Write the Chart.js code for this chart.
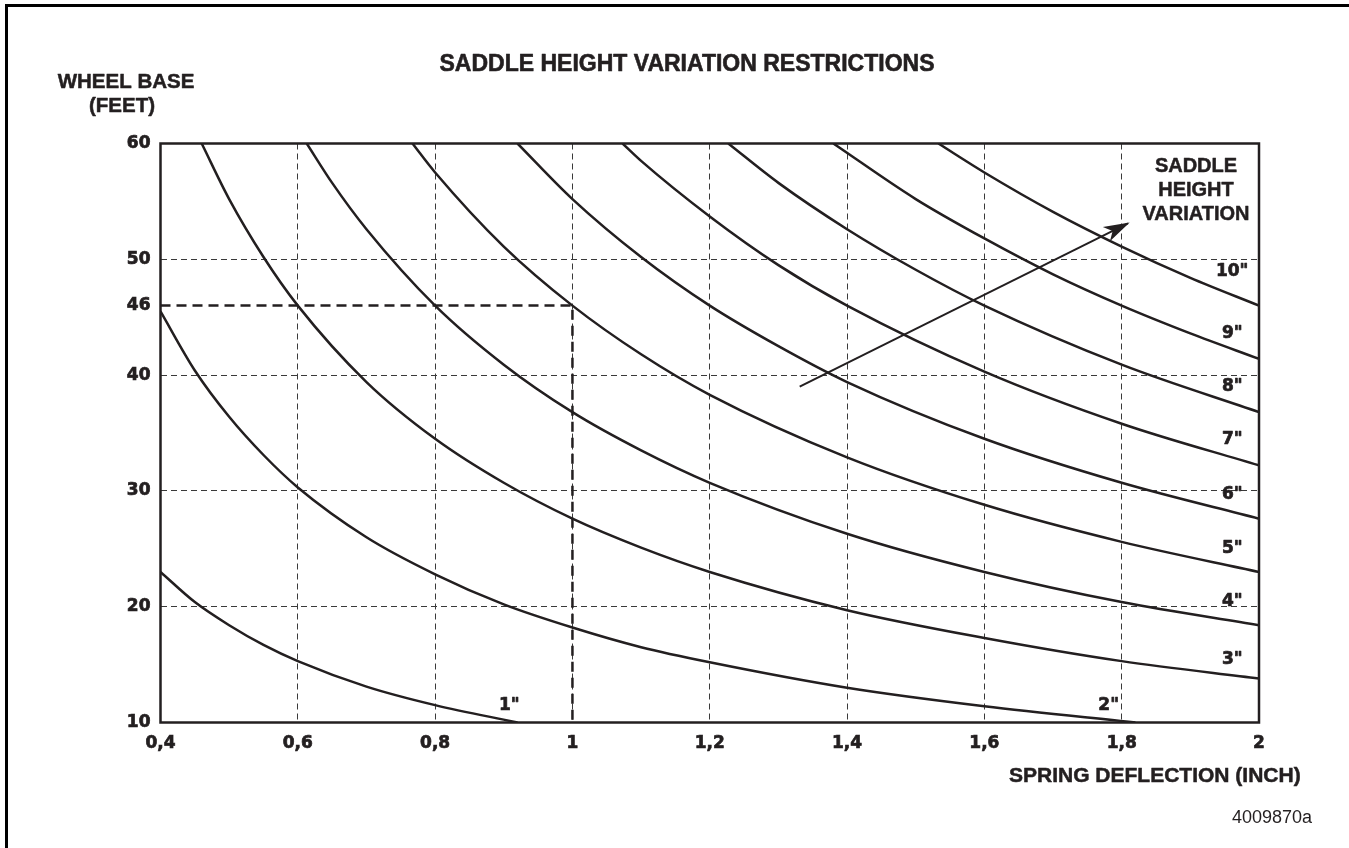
<!DOCTYPE html>
<html>
<head>
<meta charset="utf-8">
<title>Saddle height variation restrictions</title>
<script src="https://cdn.jsdelivr.net/npm/chart.js@4.4.1/dist/chart.umd.min.js"></script>
<style>
  html, body { margin: 0; padding: 0; background: #fff; }
  body { width: 1349px; height: 848px; position: relative; overflow: hidden; }
  #frame {
    position: absolute; left: 5px; top: 4px; width: 1400px; height: 900px;
    border-left: 3px solid #000; border-top: 3px solid #000;
  }
  #chart { position: absolute; left: 0; top: 0; }
</style>
</head>
<body>
<div id="frame"></div>
<canvas id="chart" width="1349" height="848"></canvas>
<script>
// axis ticks
const xTicks = [0.4, 0.6, 0.8, 1, 1.2, 1.4, 1.6, 1.8, 2];
const yTicks = [10, 20, 30, 40, 46, 50, 60];

// saddle height variation (inch) for each curve
const variations = [1, 2, 3, 4, 5, 6, 7, 8, 9, 10];

// spring deflection (inch) / wheel base (feet) along each curve
const defl1 = [0.4, 0.45, 0.5, 0.55, 0.6, 0.7, 0.8, 0.92];
const base1 = [23.0, 20.4, 18.4, 16.7, 15.3, 13.1, 11.5, 10.0];
const defl2 = [0.4, 0.45, 0.5, 0.55, 0.6, 0.7, 0.8, 0.9, 1.0, 1.1, 1.2, 1.4, 1.6, 1.82];
const base2 = [45.5, 40.4, 36.4, 33.1, 30.3, 26.0, 22.8, 20.2, 18.2, 16.5, 15.2, 13.0, 11.4, 10.0];
const defl3 = [0.46, 0.5, 0.55, 0.6, 0.7, 0.8, 0.9, 1.0, 1.1, 1.2, 1.4, 1.6, 1.8, 2.0];
const base3 = [60, 55.2, 50.2, 46.0, 39.4, 34.5, 30.7, 27.6, 25.1, 23.0, 19.7, 17.3, 15.3, 13.8];
const defl4 = [0.613, 0.65, 0.7, 0.8, 0.9, 1.0, 1.1, 1.2, 1.4, 1.6, 1.8, 2.0];
const base4 = [60, 56.6, 52.6, 46.0, 40.9, 36.8, 33.5, 30.7, 26.3, 23.0, 20.4, 18.4];
const defl5 = [0.767, 0.8, 0.9, 1.0, 1.1, 1.2, 1.4, 1.6, 1.8, 2.0];
const base5 = [60, 57.5, 51.1, 46.0, 41.8, 38.3, 32.9, 28.8, 25.6, 23.0];
const defl6 = [0.92, 1.0, 1.1, 1.2, 1.3, 1.4, 1.6, 1.8, 2.0];
const base6 = [60, 55.2, 50.2, 46.0, 42.5, 39.4, 34.5, 30.7, 27.6];
const defl7 = [1.073, 1.1, 1.2, 1.3, 1.4, 1.6, 1.8, 2.0];
const base7 = [60, 58.5, 53.7, 49.5, 46.0, 40.3, 35.8, 32.2];
const defl8 = [1.227, 1.3, 1.4, 1.5, 1.6, 1.8, 2.0];
const base8 = [60, 56.6, 52.6, 49.1, 46.0, 40.9, 36.8];
const defl9 = [1.38, 1.5, 1.6, 1.7, 1.8, 1.9, 2.0];
const base9 = [60, 55.2, 51.8, 48.7, 46.0, 43.6, 41.4];
const defl10 = [1.533, 1.6, 1.7, 1.8, 1.9, 2.0];
const base10 = [60, 57.5, 54.1, 51.1, 48.4, 46.0];

// worked example: 1" deflection on a 46 ft wheel base
const exampleDefl = [0.4, 1, 1];
const exampleBase = [46, 46, 10];

// "increasing variation" arrow
const arrowDefl = [1.331, 1.809];
const arrowBase = [39.0, 53.1];

// where the curve names sit (deflection, wheel base)
const labelDefl = [0.908, 1.781, 1.961, 1.961, 1.961, 1.961, 1.961, 1.961, 1.961, 1.961];
const labelBase = [11.5, 11.5, 15.4, 20.4, 25.0, 29.7, 34.4, 39.0, 43.6, 48.9];

const INK = "#231f20";
const HEAD_FONT = '"Liberation Sans", Arial, sans-serif';
const TICK_FONT = '"DejaVu Sans", sans-serif';

const zip = (xs, ys) => xs.map((x, i) => ({ x: x, y: ys[i] }));

const deflections = [defl1, defl2, defl3, defl4, defl5, defl6, defl7, defl8, defl9, defl10];
const wheelBases = [base1, base2, base3, base4, base5, base6, base7, base8, base9, base10];

const curveSets = variations.map((v, i) => ({
  label: v + '"',
  data: zip(deflections[i], wheelBases[i]),
  borderColor: INK,
  borderWidth: 2.5,
  pointRadius: 0,
  showLine: true,
  cubicInterpolationMode: "monotone",
}));

const exampleSet = {
  label: "example",
  data: zip(exampleDefl, exampleBase),
  borderColor: INK,
  borderWidth: 2.5,
  borderDash: [10, 6],
  pointRadius: 0,
  showLine: true,
  tension: 0,
};

const arrowSet = {
  label: "arrow",
  data: zip(arrowDefl, arrowBase),
  borderColor: INK,
  borderWidth: 2,
  pointRadius: 0,
  showLine: true,
  tension: 0,
};

function fmtTick(v) {
  return Number.isInteger(v) ? String(v) : v.toFixed(1).replace(".", ",");
}

// draw text a little heavier than the plain bold face
function heavyText(ctx, s, px, py, w) {
  ctx.lineWidth = w;
  ctx.strokeStyle = INK;
  ctx.strokeText(s, px, py);
  ctx.fillText(s, px, py);
}

// texts, curve names, arrow head and the plot frame
const decorPlugin = {
  id: "decor",
  afterDraw(chart) {
    const { ctx, chartArea, scales } = chart;
    const x = scales.x, y = scales.y;
    ctx.save();

    // frame round the plot
    ctx.strokeStyle = INK;
    ctx.lineWidth = 2.5;
    ctx.strokeRect(chartArea.left, chartArea.top,
      chartArea.right - chartArea.left, chartArea.bottom - chartArea.top);

    // arrow head
    const meta = chart.getDatasetMeta(chart.data.datasets.length - 1);
    const p0 = meta.data[0], p1 = meta.data[1];
    const ang = Math.atan2(p1.y - p0.y, p1.x - p0.x);
    ctx.translate(p1.x, p1.y);
    ctx.rotate(ang);
    ctx.beginPath();
    ctx.moveTo(2, 0);
    ctx.lineTo(-24, -8);
    ctx.lineTo(-17, 0);
    ctx.lineTo(-24, 8);
    ctx.closePath();
    ctx.fillStyle = INK;
    ctx.fill();
    ctx.setTransform(1, 0, 0, 1, 0, 0);

    ctx.fillStyle = INK;
    ctx.textBaseline = "alphabetic";
    ctx.lineJoin = "round";

    ctx.font = "bold 23px " + HEAD_FONT;
    ctx.textAlign = "center";
    heavyText(ctx, "SADDLE HEIGHT VARIATION RESTRICTIONS", 687, 71, 0.6);

    ctx.font = "bold 20.5px " + HEAD_FONT;
    heavyText(ctx, "WHEEL BASE", 126, 88, 0.5);
    heavyText(ctx, "(FEET)", 122, 112, 0.5);

    ctx.font = "bold 20px " + HEAD_FONT;
    heavyText(ctx, "SADDLE", 1196, 172, 0.5);
    heavyText(ctx, "HEIGHT", 1196, 196, 0.5);
    heavyText(ctx, "VARIATION", 1196, 220, 0.5);

    ctx.textAlign = "left";
    ctx.font = "bold 21px " + HEAD_FONT;
    heavyText(ctx, "SPRING DEFLECTION (INCH)", 1009, 782, 0.5);

    ctx.font = "18px " + HEAD_FONT;
    ctx.fillText("4009870a", 1232, 823);

    // curve names
    ctx.font = "bold 17px " + TICK_FONT;
    ctx.textAlign = "center";
    ctx.textBaseline = "middle";
    variations.forEach((v, i) => {
      heavyText(ctx, v + '"', x.getPixelForValue(labelDefl[i]), y.getPixelForValue(labelBase[i]), 0.7);
    });

    ctx.restore();
  },
};

new Chart(document.getElementById("chart"), {
  type: "scatter",
  data: { datasets: [...curveSets, exampleSet, arrowSet] },
  options: {
    responsive: false,
    animation: false,
    devicePixelRatio: 1,
    layout: { padding: { left: 100.5, top: 143.5, right: 90, bottom: 95.5 } },
    plugins: { legend: { display: false }, tooltip: { enabled: false } },
    scales: {
      x: {
        type: "linear",
        min: 0.4,
        max: 2,
        afterBuildTicks: (s) => { s.ticks = xTicks.map((v) => ({ value: v })); },
        afterFit: (s) => { s.height = 30; },
        grid: { color: "#3a3a3a", lineWidth: 1, drawTicks: false },
        border: { display: false, dash: [6, 4] },
        ticks: {
          color: INK,
          padding: 11,
          maxRotation: 0,
          textStrokeColor: INK,
          textStrokeWidth: 0.7,
          font: { family: TICK_FONT, weight: "bold", size: 17 },
          callback: (v) => fmtTick(v),
        },
      },
      y: {
        type: "linear",
        min: 10,
        max: 60,
        afterBuildTicks: (s) => { s.ticks = yTicks.map((v) => ({ value: v })); },
        afterFit: (s) => { s.width = 60; },
        grid: {
          color: (c) => (c.tick && c.tick.value === 46 ? "rgba(0,0,0,0)" : "#3a3a3a"),
          lineWidth: 1,
          drawTicks: false,
        },
        border: { display: false, dash: [6, 4] },
        ticks: {
          color: INK,
          padding: 10,
          textStrokeColor: INK,
          textStrokeWidth: 0.7,
          font: { family: TICK_FONT, weight: "bold", size: 17 },
          callback: (v) => fmtTick(v),
        },
      },
    },
  },
  plugins: [decorPlugin],
});
</script>
</body>
</html>
